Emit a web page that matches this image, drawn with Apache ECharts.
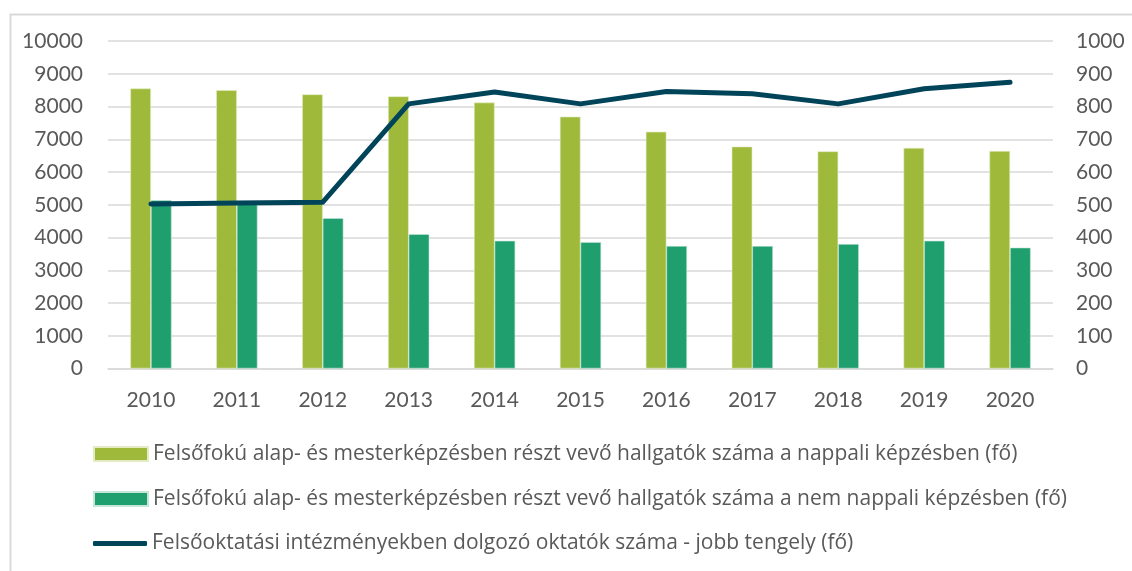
<!DOCTYPE html>
<html>
<head>
<meta charset="utf-8">
<script src="https://cdn.jsdelivr.net/npm/echarts@6/dist/echarts.min.js"></script>
<style>
  html, body { margin: 0; padding: 0; background: #ffffff; }
  #chart { width: 1132px; height: 571px; }
</style>
</head>
<body>
<div id="chart"></div>
<script>
// Years on the category axis
const years = ['2010', '2011', '2012', '2013', '2014', '2015', '2016', '2017', '2018', '2019', '2020'];

// Full-time students in bachelor and master programmes (persons)
const fullTime = [8550, 8500, 8370, 8310, 8120, 7690, 7230, 6775, 6630, 6735, 6640];

// Part-time students in bachelor and master programmes (persons)
const partTime = [5140, 5090, 4590, 4100, 3900, 3860, 3740, 3740, 3800, 3900, 3690];

// Teaching staff in higher education institutions (persons, right axis)
const teachers = [502, 505, 508, 808, 844, 808, 846, 839, 808, 854, 874];

const nameFull = 'Felsőfokú alap- és mesterképzésben részt vevő hallgatók száma a nappali képzésben (fő)';
const namePart = 'Felsőfokú alap- és mesterképzésben részt vevő hallgatók száma a nem nappali képzésben (fő)';
const nameTeach = 'Felsőoktatási intézményekben dolgozó oktatók száma - jobb tengely (fő)';

const FONT = 'Lato, "Open Sans", sans-serif';
const LEGEND_FONT = '"Open Sans", Lato, sans-serif';
const TEXT = '#595959';
const GRID = '#d9d9d9';

const plain = v => String(v);

const chart = echarts.init(document.getElementById('chart'), null, { renderer: 'canvas' });

const legendBase = {
  orient: 'vertical',
  left: 93,
  itemWidth: 54,
  itemHeight: 14,
  itemGap: 0,
  selectedMode: false,
  textStyle: { color: TEXT, fontFamily: LEGEND_FONT, fontSize: 21, lineHeight: 21 },
  padding: 0
};

chart.setOption({
  animation: false,
  backgroundColor: '#ffffff',
  graphic: [{
    type: 'rect',
    left: 8, top: 12,
    shape: { width: 1300, height: 700 },
    style: { fill: 'none', stroke: GRID, lineWidth: 2 },
    silent: true,
    z: -1
  }],
  grid: { left: 108, right: 79, top: 41, bottom: 202.5 },
  legend: [
    Object.assign({}, legendBase, {
      top: 443.5,
      data: [{ name: nameFull, icon: 'rect' }]
    }),
    Object.assign({}, legendBase, {
      top: 488.5,
      data: [{ name: namePart, icon: 'rect' }]
    }),
    Object.assign({}, legendBase, {
      top: 533,
      itemHeight: 5,
      data: [{ name: nameTeach, icon: 'roundRect' }]
    })
  ],
  xAxis: {
    type: 'category',
    data: years,
    axisLine: { show: true, lineStyle: { color: GRID, width: 1.5 } },
    axisTick: { show: false },
    axisLabel: { color: TEXT, fontFamily: FONT, fontSize: 21, margin: 21 }
  },
  yAxis: [{
    type: 'value',
    min: 0, max: 10000, interval: 1000,
    axisLine: { show: false },
    axisTick: { show: false },
    splitLine: { lineStyle: { color: GRID, width: 1.5 } },
    axisLabel: { color: TEXT, fontFamily: FONT, fontSize: 21, margin: 25, formatter: plain }
  }, {
    type: 'value',
    min: 0, max: 1000, interval: 100,
    axisLine: { show: false },
    axisTick: { show: false },
    splitLine: { show: false },
    axisLabel: { color: TEXT, fontFamily: FONT, fontSize: 21, margin: 23, formatter: plain }
  }],
  series: [{
    name: nameFull,
    type: 'bar',
    data: fullTime,
    barWidth: '24%',
    barGap: '0%',
    itemStyle: { color: '#9fba3b', borderColor: '#e3ecc4', borderWidth: 0.6 }
  }, {
    name: namePart,
    type: 'bar',
    data: partTime,
    barWidth: '24%',
    itemStyle: { color: '#1f9e6e', borderColor: '#c6e6d9', borderWidth: 0.6 }
  }, {
    name: nameTeach,
    type: 'line',
    yAxisIndex: 1,
    data: teachers,
    symbol: 'none',
    lineStyle: { color: '#00445a', width: 5, cap: 'round', join: 'round' },
    itemStyle: { color: '#00445a' },
    z: 5
  }]
});
</script>
</body>
</html>
